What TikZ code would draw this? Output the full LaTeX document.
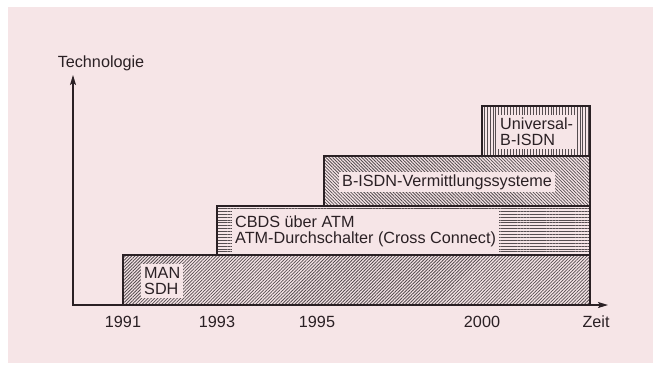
\documentclass[tikz,border=0pt]{standalone}
\usepackage{fontspec}
\setmainfont{Liberation Sans}
\usetikzlibrary{arrows.meta,patterns.meta}
\definecolor{rosa}{RGB}{246,229,231}
\definecolor{tusche}{RGB}{42,32,36}
\tikzset{
	stufe/.style={draw=tusche,line width=1.4pt},
	schraegr/.style={pattern={Lines[angle=45,distance=2.3pt,line width=0.8pt]},pattern color=tusche!80},
	schraegl/.style={pattern={Lines[angle=-45,distance=2.3pt,line width=0.8pt]},pattern color=tusche!80},
	quer/.style={pattern={Lines[angle=0,distance=2.9pt,line width=0.9pt]},pattern color=tusche!80},
	senk/.style={pattern={Lines[angle=90,distance=2.9pt,line width=0.9pt]},pattern color=tusche!80},
	schrift/.style={font=\fontsize{16.2}{16}\selectfont,text=tusche,inner sep=0pt},
	etikett/.style={schrift,fill=rosa,align=left,anchor=west,inner xsep=3pt,inner ysep=3pt},
	achse/.style={draw=tusche,line width=1.3pt,{Stealth[length=10pt,width=6pt,inset=2pt]}-{Stealth[length=10pt,width=6pt,inset=2pt]}}
}

\begin{document}
\begin{tikzpicture}[x=1pt,y=-1pt]
	\useasboundingbox (0,0) rectangle (653,365);
	\fill[rosa] (8,7) rectangle (653,363);
	\coordinate (ursprung) at (73,305);
	\coordinate (yspitze) at (73,75);
	\coordinate (xspitze) at (608,305);
	\draw[stufe,schraegr] (123,255) rectangle (590,305);
	\draw[stufe,quer] (217,206) rectangle (590,255);
	\draw[stufe,schraegl] (324,156) rectangle (590,206);
	\draw[stufe,senk] (482,106) rectangle (590,156);
	\node[etikett] (man) at (141,281) {MAN\\SDH};
	\node[etikett,inner ysep=6pt] (cbds) at (232,231) {CBDS über ATM\\ATM-Durchschalter (Cross Connect)};
	\node[etikett,inner ysep=2.5pt] (bisdn) at (339,182) {B-ISDN-Vermittlungssysteme};
	\node[etikett,inner xsep=4pt] (univ) at (496,132) {Universal-\\B-ISDN};
	\draw[achse] (yspitze) -- (ursprung) -- (xspitze);
	\node[schrift] (tech) at (101,63) {Technologie};
	\node[schrift] (j1991) at (123,322) {1991};
	\node[schrift] (j1993) at (217,322) {1993};
	\node[schrift] (j1995) at (317,322) {1995};
	\node[schrift] (j2000) at (482,322) {2000};
	\node[schrift] (zeit) at (596,322) {Zeit};
\end{tikzpicture}
\end{document}
